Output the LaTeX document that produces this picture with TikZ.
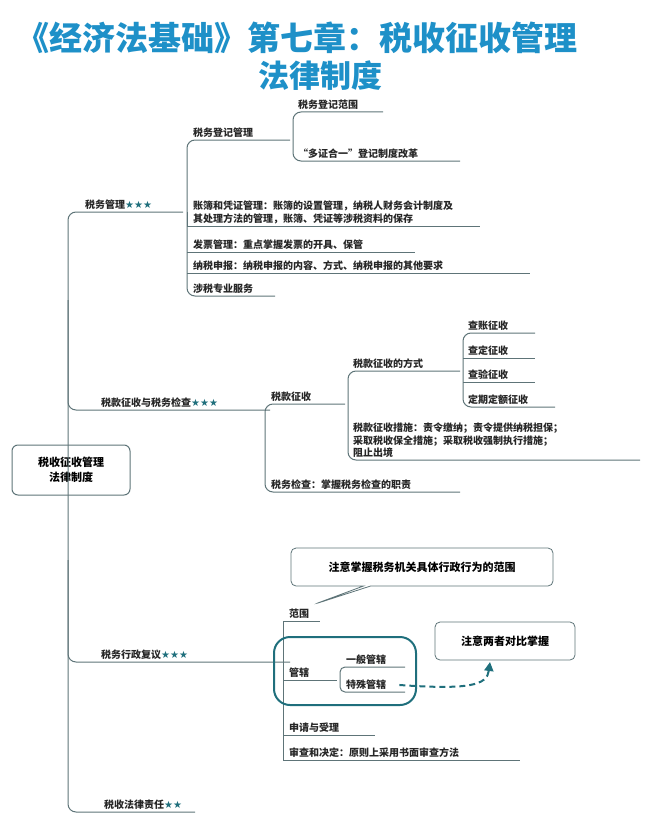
\documentclass[tikz,border=0pt]{standalone}
\usepackage{fontspec}
\setmainfont{Noto Sans CJK SC}
\newfontfamily\symfont{DejaVu Sans}
\usetikzlibrary{positioning,shapes.callouts,arrows.meta}
\definecolor{lineC}{HTML}{5E7478}
\definecolor{titleC}{HTML}{1E90C8}
\definecolor{hiC}{HTML}{1F6F7C}
\newcommand{\stars}[1]{{\symfont\color{hiC}\fontsize{10}{10}\selectfont #1}}
\tikzset{
  lbl/.style={inner sep=1pt,anchor=south west,font=\fontsize{10}{12.5}\selectfont\bfseries,text=black!85},
  br/.style={draw=lineC,line width=1pt,rounded corners=8pt},
  ul/.style={draw=lineC,line width=1pt}
}
\begin{document}
\begin{tikzpicture}[x=1pt,y=-1pt]
\useasboundingbox (0,0) rectangle (650,824);
% title
\node[font=\fontsize{33}{38}\selectfont\bfseries,text=titleC] (t1) at (297,38) {《经济法基础》第七章：税收征收管理};
\node[font=\fontsize{31}{36}\selectfont\bfseries,text=titleC] (t2) at (320,76) {法律制度};
% root
\node[draw=lineC,line width=1pt,rounded corners=6pt,minimum width=118pt,minimum height=50pt,align=center,
  font=\fontsize{11}{15}\selectfont\bfseries] (root) at (71,470) {税收征收管理\\法律制度};
% main spine
\draw[br] (183,212) -- (68,212) -- (68,812) -- (195,812);
\draw[br] (68,300) |- (270,410);
\draw[br] (68,560) |- (290,662);
\node[lbl] (m1) at (84,211) {税务管理\stars{★★★}};
\node[lbl] (m2) at (100,409) {税款征收与税务检查\stars{★★★}};
\node[lbl] (m3) at (100,661) {税务行政复议\stars{★★★}};
\node[lbl] (m4) at (103,811) {税收法律责任\stars{★★}};
% 税务管理
\draw[br] (290,140) -- (187,140) -- (187,296) -- (275,296);
\draw[ul] (187,212) -- (187,226);
\draw[ul] (187,226) -- (480,226);
\draw[ul] (187,252) -- (415,252);
\draw[ul] (187,273) -- (530,273);
\node[lbl] (a1) at (192,139) {税务登记管理};
\node[lbl,align=left] (a2) at (192,225) {账簿和凭证管理：账簿的设置管理，纳税人财务会计制度及\\其处理方法的管理，账簿、凭证等涉税资料的保存};
\node[lbl] (a3) at (192,251) {发票管理：重点掌握发票的开具、保管};
\node[lbl] (a4) at (192,272) {纳税申报：纳税申报的内容、方式、纳税申报的其他要求};
\node[lbl] (a5) at (192,295) {涉税专业服务};
\draw[br] (383,112) -- (293,112) -- (293,161) -- (460,161);
\node[lbl] (b1) at (297,111) {税务登记范围};
\node[lbl] (b2) at (297,160) {“多证合一”登记制度改革};
% 税款征收与税务检查
\draw[br] (345,404) -- (265,404) -- (265,492) -- (460,492);
\node[lbl] (c1) at (270,403) {税款征收};
\node[lbl] (c2) at (270,491) {税务检查：掌握税务检查的职责};
\draw[br] (460,371) -- (348,371) -- (348,460) -- (640,460);
\node[lbl] (d1) at (352,370) {税款征收的方式};
\node[lbl,align=left] (d2) at (352,459) {税款征收措施：责令缴纳；责令提供纳税担保；\\采取税收保全措施；采取税收强制执行措施；\\阻止出境};
\draw[br] (535,333) -- (463,333) -- (463,407) -- (555,407);
\draw[ul] (463,358) -- (535,358);
\draw[ul] (463,382) -- (535,382);
\node[lbl] (e1) at (467,332) {查账征收};
\node[lbl] (e2) at (467,357) {查定征收};
\node[lbl] (e3) at (467,381) {查验征收};
\node[lbl] (e4) at (467,406) {定期定额征收};
% 税务行政复议
\draw[ul] (283,621) -- (320,621);
\draw[ul] (283,621) -- (283,760) -- (520,760);
\draw[ul] (283,680) -- (337,680);
\draw[ul] (283,735) -- (375,735);
\node[lbl] (f1) at (288,620) {范围};
\node[lbl] (f2) at (288,679) {管辖};
\node[lbl] (f3) at (288,734) {申请与受理};
\node[lbl] (f4) at (288,759) {审查和决定：原则上采用书面审查方法};
\draw[br,rounded corners=5pt] (405,667) -- (340,667) -- (340,692) -- (405,692);
\node[lbl] (g1) at (345,666) {一般管辖};
\node[lbl] (g2) at (345,691) {特殊管辖};
% highlight and notes
\draw[hiC,line width=2pt,rounded corners=16pt] (274,637) rectangle (416,705);
\node[rectangle callout,draw=lineC,line width=0.8pt,rounded corners=5pt,minimum width=262pt,minimum height=38pt,
  font=\fontsize{11}{13}\selectfont\bfseries,callout absolute pointer={(315,604)}] (n1) at (422,567) {注意掌握税务机关具体行政行为的范围};
\node[draw=lineC,line width=0.8pt,rounded corners=5pt,minimum width=140pt,minimum height=38pt,
  font=\fontsize{11}{13}\selectfont\bfseries] (n2) at (505,641) {注意两者对比掌握};
\draw[hiC,line width=2pt,dash pattern=on 6pt off 4pt,-{Triangle[length=9pt,width=9pt]}]
  (g2.east) ++(12,0) .. controls (470,690) and (487,685) .. (490,662);
\end{tikzpicture}
\end{document}
